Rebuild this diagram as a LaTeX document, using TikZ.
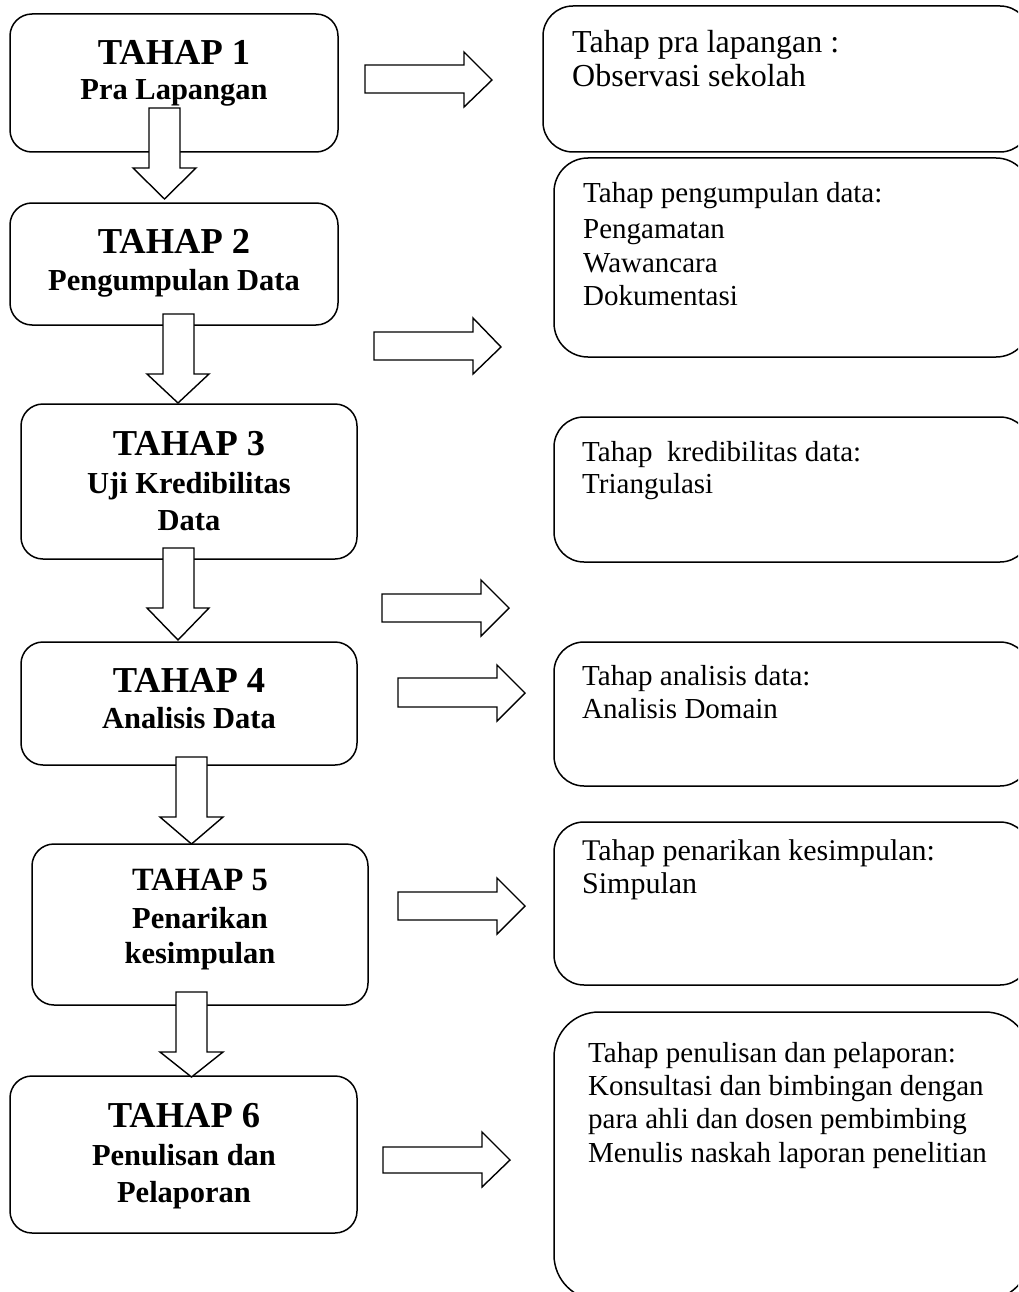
\documentclass[tikz,border=0pt]{standalone}
\usepackage{fontspec}
\setmainfont{Liberation Serif}
\begin{document}
\begin{tikzpicture}[x=1pt,y=-1pt,
  lbox/.style={draw, line width=1.5pt, rounded corners=22pt, fill=white, inner sep=0pt},
  rbox/.style={draw, line width=1.5pt, rounded corners=30pt, fill=white, inner sep=0pt},
  blk/.style={draw, line width=1.4pt, fill=white, line join=miter},
  ttl/.style={font=\fontsize{36.5}{40}\selectfont\bfseries, anchor=base, inner sep=0pt},
  sub/.style={font=\fontsize{30.5}{36}\selectfont\bfseries, anchor=base, inner sep=0pt},
  txt/.style={font=\fontsize{29}{33}\selectfont, anchor=base west, inner sep=0pt}]
\useasboundingbox (0,0) rectangle (1018,1292);
\clip (0,0) rectangle (1018,1292);
% left boxes
\node[lbox, minimum width=328pt, minimum height=138pt] (b1) at (174,83) {};
\node[lbox, minimum width=328pt, minimum height=122pt] (b2) at (174,264) {};
\node[lbox, minimum width=336pt, minimum height=155pt] (b3) at (189,481.5) {};
\node[lbox, minimum width=336pt, minimum height=123pt] (b4) at (189,703.5) {};
\node[lbox, minimum width=336pt, minimum height=161pt] (b5) at (200,924.5) {};
\node[lbox, minimum width=347pt, minimum height=157pt] (b6) at (183.5,1154.5) {};
% right boxes
\node[rbox, minimum width=487pt, minimum height=146pt] (r1) at (786.5,79) {};
\node[rbox, rounded corners=34pt, minimum width=476pt, minimum height=199pt] (r2) at (792,257.5) {};
\node[rbox, minimum width=476pt, minimum height=145pt] (r3) at (792,489.5) {};
\node[rbox, minimum width=476pt, minimum height=144pt] (r4) at (792,714) {};
\node[rbox, minimum width=476pt, minimum height=163pt] (r5) at (792,903.5) {};
\node[rbox, rounded corners=45pt, minimum width=476pt, minimum height=288pt] (r6) at (792,1156) {};
% down block arrows
\draw[blk] (149,108) -- (180,108) -- (180,168) -- (196,168) -- (164.5,199) -- (133,168) -- (149,168) -- cycle;
\draw[blk] (163,314) -- (194,314) -- (194,374) -- (209,374) -- (178,403) -- (147,374) -- (163,374) -- cycle;
\draw[blk] (163,548) -- (194,548) -- (194,608) -- (209,608) -- (178,640) -- (147,608) -- (163,608) -- cycle;
\draw[blk] (176,757) -- (207,757) -- (207,817) -- (223,817) -- (191.5,844) -- (160,817) -- (176,817) -- cycle;
\draw[blk] (176,992) -- (207,992) -- (207,1052) -- (223,1052) -- (191.5,1077) -- (160,1052) -- (176,1052) -- cycle;
% right block arrows
\draw[blk] (365,65) -- (464,65) -- (464,52) -- (492,80) -- (464,107) -- (464,93) -- (365,93) -- cycle;
\draw[blk] (374,332) -- (473,332) -- (473,318) -- (501,347) -- (473,374) -- (473,360) -- (374,360) -- cycle;
\draw[blk] (382,594) -- (481,594) -- (481,580) -- (509,608) -- (481,636) -- (481,622) -- (382,622) -- cycle;
\draw[blk] (398,678) -- (497,678) -- (497,665) -- (525,693) -- (497,721) -- (497,707) -- (398,707) -- cycle;
\draw[blk] (398,892) -- (497,892) -- (497,878) -- (525,906) -- (497,934) -- (497,920) -- (398,920) -- cycle;
\draw[blk] (383,1147) -- (482,1147) -- (482,1132) -- (510,1160) -- (482,1187) -- (482,1173) -- (383,1173) -- cycle;
% left texts
\node[ttl] (t1) at (174,65) {TAHAP 1};
\node[sub] (s1) at (174,100) {Pra Lapangan};
\node[ttl] (t2) at (174,253) {TAHAP 2};
\node[sub] (s2) at (174,290) {Pengumpulan Data};
\node[ttl] (t3) at (189,455) {TAHAP 3};
\node[sub] (s3a) at (189,493) {Uji Kredibilitas};
\node[sub] (s3b) at (189,530) {Data};
\node[ttl] (t4) at (189,692) {TAHAP 4};
\node[sub] (s4) at (189,728) {Analisis Data};
\node[ttl, font=\fontsize{32.5}{36}\selectfont\bfseries] (t5) at (200,890) {TAHAP 5};
\node[sub] (s5a) at (200,928) {Penarikan};
\node[sub] (s5b) at (200,963) {kesimpulan};
\node[ttl] (t6) at (184,1127) {TAHAP 6};
\node[sub] (s6a) at (184,1165) {Penulisan dan};
\node[sub] (s6b) at (184,1202) {Pelaporan};
% right texts
\node[txt, font=\fontsize{32}{34}\selectfont] (x1a) at (572,53) {Tahap pra lapangan :};
\node[txt, font=\fontsize{32}{34}\selectfont] (x1b) at (572,87) {Observasi sekolah};
\node[txt] (x2a) at (583,203) {Tahap pengumpulan data:};
\node[txt] (x2b) at (583,238) {Pengamatan};
\node[txt] (x2c) at (583,272) {Wawancara};
\node[txt] (x2d) at (583,305) {Dokumentasi};
\node[txt] (x3a) at (582,461) {Tahap~~kredibilitas data:};
\node[txt] (x3b) at (582,493) {Triangulasi};
\node[txt] (x4a) at (582,685) {Tahap analisis data:};
\node[txt] (x4b) at (582,718) {Analisis Domain};
\node[txt, font=\fontsize{30}{33}\selectfont] (x5a) at (582,860) {Tahap penarikan kesimpulan:};
\node[txt, font=\fontsize{30}{33}\selectfont] (x5b) at (582,893) {Simpulan};
\node[txt] (x6a) at (588,1062) {Tahap penulisan dan pelaporan:};
\node[txt] (x6b) at (588,1095) {Konsultasi dan bimbingan dengan};
\node[txt] (x6c) at (588,1128) {para ahli dan dosen pembimbing};
\node[txt] (x6d) at (588,1162) {Menulis naskah laporan penelitian};
\end{tikzpicture}
\end{document}
